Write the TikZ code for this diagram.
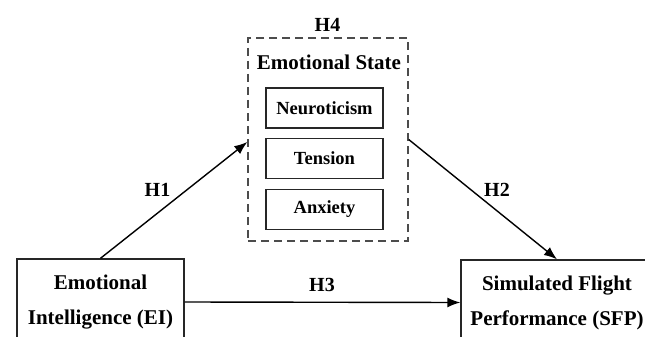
\documentclass[tikz,border=0pt]{standalone}
\usepackage{fontspec}
\setmainfont{Liberation Serif}
\usetikzlibrary{arrows.meta}
\begin{document}
\begin{tikzpicture}[x=1pt,y=1pt,
  bigbox/.style={draw=black!85,line width=1.4pt,align=center,font=\fontsize{21}{35}\selectfont\bfseries,inner sep=0pt},
  innerbox/.style={draw=black!85,line width=1.3pt,minimum width=117pt,minimum height=40pt,inner sep=0pt,font=\fontsize{18.5}{22}\selectfont\bfseries},
  dashbox/.style={draw=black!70,line width=1.4pt,dash pattern=on 8pt off 5pt,minimum width=160pt,minimum height=203pt,inner sep=0pt},
  lbl/.style={font=\fontsize{20}{24}\selectfont\bfseries,inner sep=0pt},
  arr/.style={line width=1.4pt,-{Latex[length=13pt,width=10pt]}}]
\useasboundingbox[fill=white] (0,0) rectangle (645,-337);
\node[bigbox,minimum width=167pt,minimum height=86pt] (EI) at (100.5,-302) {Emotional\\Intelligence (EI)};
\node[bigbox,minimum width=192pt,minimum height=85pt] (SFP) at (557,-302.5) {Simulated Flight\\Performance (SFP)};
\node[dashbox] (ES) at (328,-139.5) {};
\node[font=\fontsize{21}{25}\selectfont\bfseries,inner sep=0pt] (EST) at (329,-62) {Emotional State};
\node[innerbox] (N) at (324.5,-108) {Neuroticism};
\node[innerbox] (T) at (324.5,-158.5) {Tension};
\node[innerbox] (A) at (324.5,-209.5) {Anxiety};
\node[lbl] (H4) at (327.5,-24.5) {H4};
\node[lbl] (H1) at (157.5,-190) {H1};
\node[lbl] (H2) at (497,-190) {H2};
\node[lbl] (H3) at (322,-285) {H3};
\draw[arr] (EI.north) -- ([yshift=-2.5pt]ES.west);
\draw[arr] (ES.east) -- (SFP.north);
\draw[arr] (EI.east) -- (SFP.west);
\end{tikzpicture}
\end{document}
